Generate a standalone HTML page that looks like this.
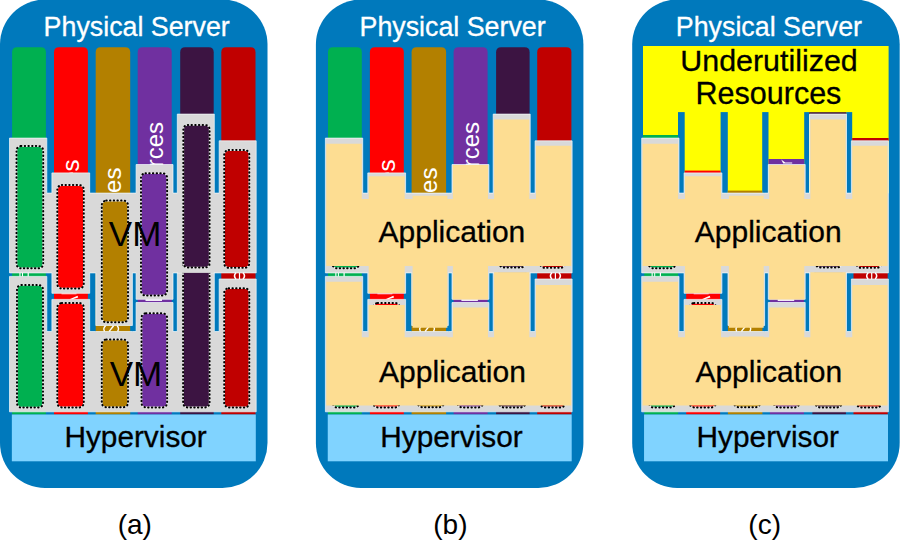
<!DOCTYPE html><html><head><meta charset="utf-8"><style>html,body{margin:0;padding:0;background:#fff;}svg{display:block}</style></head><body>
<svg width="900" height="557" viewBox="0 0 900 557" font-family="'Liberation Sans', sans-serif">
<rect width="900" height="557" fill="#fff"/>
<g transform="translate(0.0,0)">
<rect x="0" y="-0.5" width="267.5" height="488.5" rx="45" ry="45" fill="#0079BC"/>
<path d="M12.10,414.60 V52.20 Q12.10,47.20 17.10,47.20 H40.90 Q45.90,47.20 45.90,52.20 V414.60 Z" fill="#00B050"/>
<path d="M54.00,414.60 V52.20 Q54.00,47.20 59.00,47.20 H82.90 Q87.90,47.20 87.90,52.20 V414.60 Z" fill="#FF0000"/>
<path d="M95.70,414.60 V52.20 Q95.70,47.20 100.70,47.20 H125.20 Q130.20,47.20 130.20,52.20 V414.60 Z" fill="#B38000"/>
<path d="M137.70,414.60 V52.20 Q137.70,47.20 142.70,47.20 H166.70 Q171.70,47.20 171.70,52.20 V414.60 Z" fill="#7030A0"/>
<path d="M180.20,414.60 V52.20 Q180.20,47.20 185.20,47.20 H208.70 Q213.70,47.20 213.70,52.20 V414.60 Z" fill="#3C1442"/>
<path d="M221.30,414.60 V52.20 Q221.30,47.20 226.30,47.20 H250.50 Q255.50,47.20 255.50,52.20 V414.60 Z" fill="#C00000"/>
<text transform="translate(79.10,159.40) rotate(-90)" text-anchor="end" font-size="24" fill="#fff">Resources</text>
<text transform="translate(120.90,167.60) rotate(-90)" text-anchor="end" font-size="24" fill="#fff">Resources</text>
<text transform="translate(163.10,122.00) rotate(-90)" text-anchor="end" font-size="24" fill="#fff">Resources</text>
<polygon points="9.50,138.10 46.80,138.10 46.80,193.10 51.90,193.10 51.90,172.90 89.70,172.90 89.70,193.10 95.80,193.10 132.40,193.10 136.10,193.10 136.10,164.50 173.00,164.50 173.00,193.10 177.30,193.10 177.30,114.10 214.30,114.10 214.30,193.10 219.20,193.10 219.20,140.80 256.20,140.80 256.20,272.90 219.20,272.90 214.30,272.90 177.30,272.90 173.00,272.90 173.00,299.30 136.10,299.30 136.10,272.90 132.40,272.90 132.40,325.50 95.80,325.50 95.80,272.90 89.70,272.90 89.70,293.30 51.90,293.30 51.90,272.90 46.80,272.90 9.50,272.90" fill="#D9D9D9" stroke="#F2FAFD" stroke-width="0.7"/>
<polygon points="9.50,276.40 46.80,276.40 46.80,331.50 51.90,331.50 51.90,299.40 89.70,299.40 89.70,331.50 95.80,331.50 132.40,331.50 136.10,331.50 136.10,302.50 173.00,302.50 173.00,331.50 177.30,331.50 177.30,272.90 214.30,272.90 214.30,331.50 219.20,331.50 219.20,279.00 256.20,279.00 256.20,411.80 9.50,411.80" fill="#D9D9D9" stroke="#F2FAFD" stroke-width="0.7"/>
<rect x="17.00" y="285.00" width="26.00" height="122.60" rx="4.5" fill="#00B050" stroke="#EDEDED" stroke-width="1.6"/><rect x="17.00" y="285.00" width="26.00" height="122.60" rx="4.5" fill="none" stroke="#000" stroke-width="2.0" stroke-linecap="round" stroke-dasharray="0.45 3.25"/>
<rect x="57.30" y="303.00" width="26.50" height="104.40" rx="4.5" fill="#FF0000" stroke="#EDEDED" stroke-width="1.6"/><rect x="57.30" y="303.00" width="26.50" height="104.40" rx="4.5" fill="none" stroke="#000" stroke-width="2.0" stroke-linecap="round" stroke-dasharray="0.45 3.25"/>
<rect x="101.80" y="339.50" width="26.20" height="67.70" rx="4.5" fill="#B38000" stroke="#EDEDED" stroke-width="1.6"/><rect x="101.80" y="339.50" width="26.20" height="67.70" rx="4.5" fill="none" stroke="#000" stroke-width="2.0" stroke-linecap="round" stroke-dasharray="0.45 3.25"/>
<rect x="141.50" y="313.30" width="25.60" height="94.10" rx="4.5" fill="#7030A0" stroke="#EDEDED" stroke-width="1.6"/><rect x="141.50" y="313.30" width="25.60" height="94.10" rx="4.5" fill="none" stroke="#000" stroke-width="2.0" stroke-linecap="round" stroke-dasharray="0.45 3.25"/>
<rect x="183.10" y="262.50" width="26.50" height="144.90" rx="4.5" fill="#3C1442" stroke="#EDEDED" stroke-width="1.6"/><rect x="183.10" y="262.50" width="26.50" height="144.90" rx="4.5" fill="none" stroke="#000" stroke-width="2.0" stroke-linecap="round" stroke-dasharray="0.45 3.25"/>
<rect x="224.20" y="288.20" width="25.10" height="119.20" rx="4.5" fill="#C00000" stroke="#EDEDED" stroke-width="1.6"/><rect x="224.20" y="288.20" width="25.10" height="119.20" rx="4.5" fill="none" stroke="#000" stroke-width="2.0" stroke-linecap="round" stroke-dasharray="0.45 3.25"/>
<rect x="177.8" y="266" width="36.00" height="6.9" fill="#D9D9D9"/>
<rect x="16.50" y="146.10" width="26.70" height="122.20" rx="4.5" fill="#00B050" stroke="#EDEDED" stroke-width="1.6"/><rect x="16.50" y="146.10" width="26.70" height="122.20" rx="4.5" fill="none" stroke="#000" stroke-width="2.0" stroke-linecap="round" stroke-dasharray="0.45 3.25"/>
<rect x="57.30" y="185.10" width="26.50" height="103.40" rx="4.5" fill="#FF0000" stroke="#EDEDED" stroke-width="1.6"/><rect x="57.30" y="185.10" width="26.50" height="103.40" rx="4.5" fill="none" stroke="#000" stroke-width="2.0" stroke-linecap="round" stroke-dasharray="0.45 3.25"/>
<rect x="101.80" y="200.60" width="26.20" height="121.70" rx="4.5" fill="#B38000" stroke="#EDEDED" stroke-width="1.6"/><rect x="101.80" y="200.60" width="26.20" height="121.70" rx="4.5" fill="none" stroke="#000" stroke-width="2.0" stroke-linecap="round" stroke-dasharray="0.45 3.25"/>
<rect x="141.00" y="173.30" width="26.10" height="122.20" rx="4.5" fill="#7030A0" stroke="#EDEDED" stroke-width="1.6"/><rect x="141.00" y="173.30" width="26.10" height="122.20" rx="4.5" fill="none" stroke="#000" stroke-width="2.0" stroke-linecap="round" stroke-dasharray="0.45 3.25"/>
<rect x="183.30" y="125.00" width="26.30" height="142.50" rx="4.5" fill="#3C1442" stroke="#EDEDED" stroke-width="1.6"/><rect x="183.30" y="125.00" width="26.30" height="142.50" rx="4.5" fill="none" stroke="#000" stroke-width="2.0" stroke-linecap="round" stroke-dasharray="0.45 3.25"/>
<rect x="224.20" y="150.10" width="25.10" height="117.70" rx="4.5" fill="#C00000" stroke="#EDEDED" stroke-width="1.6"/><rect x="224.20" y="150.10" width="25.10" height="117.70" rx="4.5" fill="none" stroke="#000" stroke-width="2.0" stroke-linecap="round" stroke-dasharray="0.45 3.25"/>
<rect x="19.4" y="272.8" width="1.1" height="3.6" fill="#fff"/>
<rect x="22.0" y="272.8" width="1.0" height="3.6" fill="#fff"/>
<rect x="27.6" y="272.8" width="1.2" height="3.6" fill="#fff"/>
<path d="M69.5,299.2 L77.5,295.8 L78.2,297.6 L72.5,299.2 Z" fill="#fff"/>
<rect x="61.5" y="293.4" width="15" height="0.9" fill="#fff" opacity="0.8"/>
<path d="M105.6,325.8 Q102.6,328.5 104.6,331.4" stroke="#fff" stroke-width="1.4" fill="none"/>
<path d="M113.6,325.8 L109.2,331.4" stroke="#fff" stroke-width="1.4" fill="none"/>
<path d="M117.2,325.8 Q119.6,328.5 117.6,331.4" stroke="#fff" stroke-width="1.4" fill="none"/>
<rect x="145.5" y="299.3" width="16.5" height="1.6" fill="#fff"/>
<path d="M236.0,272.8 Q233.0,275.9 236.0,279.1" stroke="#fff" stroke-width="1.5" fill="none"/>
<path d="M243.0,272.8 Q246.0,275.9 243.0,279.1" stroke="#fff" stroke-width="1.5" fill="none"/>
<rect x="238.9" y="272.8" width="1.2" height="6.3" fill="#fff"/>
<text x="135.1" y="246.3" text-anchor="middle" font-size="35" fill="#000">VM</text>
<text x="136.0" y="386.0" text-anchor="middle" font-size="35" fill="#000">VM</text>
<rect x="11.85" y="414.5" width="243.95" height="46.8" fill="#80D3FF"/>
<text x="135.6" y="447" text-anchor="middle" font-size="29.8" fill="#000" stroke="#000" stroke-width="0.3">Hypervisor</text>
<text x="136.7" y="35.6" text-anchor="middle" font-size="26.8" fill="#fff" stroke="#fff" stroke-width="0.3">Physical Server</text>
</g>
<g transform="translate(315.9,0)">
<rect x="0" y="-0.5" width="267.5" height="488.5" rx="45" ry="45" fill="#0079BC"/>
<path d="M12.10,414.60 V52.20 Q12.10,47.20 17.10,47.20 H40.90 Q45.90,47.20 45.90,52.20 V414.60 Z" fill="#00B050"/>
<path d="M54.00,414.60 V52.20 Q54.00,47.20 59.00,47.20 H82.90 Q87.90,47.20 87.90,52.20 V414.60 Z" fill="#FF0000"/>
<path d="M95.70,414.60 V52.20 Q95.70,47.20 100.70,47.20 H125.20 Q130.20,47.20 130.20,52.20 V414.60 Z" fill="#B38000"/>
<path d="M137.70,414.60 V52.20 Q137.70,47.20 142.70,47.20 H166.70 Q171.70,47.20 171.70,52.20 V414.60 Z" fill="#7030A0"/>
<path d="M180.20,414.60 V52.20 Q180.20,47.20 185.20,47.20 H208.70 Q213.70,47.20 213.70,52.20 V414.60 Z" fill="#3C1442"/>
<path d="M221.30,414.60 V52.20 Q221.30,47.20 226.30,47.20 H250.50 Q255.50,47.20 255.50,52.20 V414.60 Z" fill="#C00000"/>
<text transform="translate(79.10,159.40) rotate(-90)" text-anchor="end" font-size="24" fill="#fff">Resources</text>
<text transform="translate(120.90,167.60) rotate(-90)" text-anchor="end" font-size="24" fill="#fff">Resources</text>
<text transform="translate(163.10,122.00) rotate(-90)" text-anchor="end" font-size="24" fill="#fff">Resources</text>
<polygon points="9.50,138.10 46.80,138.10 46.80,193.10 51.90,193.10 51.90,172.90 89.70,172.90 89.70,193.10 95.80,193.10 132.40,193.10 136.10,193.10 136.10,164.50 173.00,164.50 173.00,193.10 177.30,193.10 177.30,114.10 214.30,114.10 214.30,193.10 219.20,193.10 219.20,140.80 256.20,140.80 256.20,272.90 219.20,272.90 214.30,272.90 177.30,272.90 173.00,272.90 173.00,299.30 136.10,299.30 136.10,272.90 132.40,272.90 132.40,325.50 95.80,325.50 95.80,272.90 89.70,272.90 89.70,293.30 51.90,293.30 51.90,272.90 46.80,272.90 9.50,272.90" fill="#D9D9D9" stroke="#F2FAFD" stroke-width="0.7"/>
<polygon points="9.50,276.40 46.80,276.40 46.80,331.50 51.90,331.50 51.90,299.40 89.70,299.40 89.70,331.50 95.80,331.50 132.40,331.50 136.10,331.50 136.10,302.50 173.00,302.50 173.00,331.50 177.30,331.50 177.30,272.90 214.30,272.90 214.30,331.50 219.20,331.50 219.20,279.00 256.20,279.00 256.20,411.80 9.50,411.80" fill="#D9D9D9" stroke="#F2FAFD" stroke-width="0.7"/>
<rect x="17.00" y="285.00" width="26.00" height="122.60" rx="4.5" fill="#00B050" stroke="#EDEDED" stroke-width="1.6"/><rect x="17.00" y="285.00" width="26.00" height="122.60" rx="4.5" fill="none" stroke="#000" stroke-width="2.0" stroke-linecap="round" stroke-dasharray="0.45 3.25"/>
<rect x="57.30" y="303.00" width="26.50" height="104.40" rx="4.5" fill="#FF0000" stroke="#EDEDED" stroke-width="1.6"/><rect x="57.30" y="303.00" width="26.50" height="104.40" rx="4.5" fill="none" stroke="#000" stroke-width="2.0" stroke-linecap="round" stroke-dasharray="0.45 3.25"/>
<rect x="101.80" y="339.50" width="26.20" height="67.70" rx="4.5" fill="#B38000" stroke="#EDEDED" stroke-width="1.6"/><rect x="101.80" y="339.50" width="26.20" height="67.70" rx="4.5" fill="none" stroke="#000" stroke-width="2.0" stroke-linecap="round" stroke-dasharray="0.45 3.25"/>
<rect x="141.50" y="313.30" width="25.60" height="94.10" rx="4.5" fill="#7030A0" stroke="#EDEDED" stroke-width="1.6"/><rect x="141.50" y="313.30" width="25.60" height="94.10" rx="4.5" fill="none" stroke="#000" stroke-width="2.0" stroke-linecap="round" stroke-dasharray="0.45 3.25"/>
<rect x="183.10" y="262.50" width="26.50" height="144.90" rx="4.5" fill="#3C1442" stroke="#EDEDED" stroke-width="1.6"/><rect x="183.10" y="262.50" width="26.50" height="144.90" rx="4.5" fill="none" stroke="#000" stroke-width="2.0" stroke-linecap="round" stroke-dasharray="0.45 3.25"/>
<rect x="224.20" y="288.20" width="25.10" height="119.20" rx="4.5" fill="#C00000" stroke="#EDEDED" stroke-width="1.6"/><rect x="224.20" y="288.20" width="25.10" height="119.20" rx="4.5" fill="none" stroke="#000" stroke-width="2.0" stroke-linecap="round" stroke-dasharray="0.45 3.25"/>
<rect x="177.8" y="266" width="36.00" height="6.9" fill="#D9D9D9"/>
<rect x="16.50" y="146.10" width="26.70" height="122.20" rx="4.5" fill="#00B050" stroke="#EDEDED" stroke-width="1.6"/><rect x="16.50" y="146.10" width="26.70" height="122.20" rx="4.5" fill="none" stroke="#000" stroke-width="2.0" stroke-linecap="round" stroke-dasharray="0.45 3.25"/>
<rect x="57.30" y="185.10" width="26.50" height="103.40" rx="4.5" fill="#FF0000" stroke="#EDEDED" stroke-width="1.6"/><rect x="57.30" y="185.10" width="26.50" height="103.40" rx="4.5" fill="none" stroke="#000" stroke-width="2.0" stroke-linecap="round" stroke-dasharray="0.45 3.25"/>
<rect x="101.80" y="200.60" width="26.20" height="121.70" rx="4.5" fill="#B38000" stroke="#EDEDED" stroke-width="1.6"/><rect x="101.80" y="200.60" width="26.20" height="121.70" rx="4.5" fill="none" stroke="#000" stroke-width="2.0" stroke-linecap="round" stroke-dasharray="0.45 3.25"/>
<rect x="141.00" y="173.30" width="26.10" height="122.20" rx="4.5" fill="#7030A0" stroke="#EDEDED" stroke-width="1.6"/><rect x="141.00" y="173.30" width="26.10" height="122.20" rx="4.5" fill="none" stroke="#000" stroke-width="2.0" stroke-linecap="round" stroke-dasharray="0.45 3.25"/>
<rect x="183.30" y="125.00" width="26.30" height="142.50" rx="4.5" fill="#3C1442" stroke="#EDEDED" stroke-width="1.6"/><rect x="183.30" y="125.00" width="26.30" height="142.50" rx="4.5" fill="none" stroke="#000" stroke-width="2.0" stroke-linecap="round" stroke-dasharray="0.45 3.25"/>
<rect x="224.20" y="150.10" width="25.10" height="117.70" rx="4.5" fill="#C00000" stroke="#EDEDED" stroke-width="1.6"/><rect x="224.20" y="150.10" width="25.10" height="117.70" rx="4.5" fill="none" stroke="#000" stroke-width="2.0" stroke-linecap="round" stroke-dasharray="0.45 3.25"/>
<rect x="19.4" y="272.8" width="1.1" height="3.6" fill="#fff"/>
<rect x="22.0" y="272.8" width="1.0" height="3.6" fill="#fff"/>
<rect x="27.6" y="272.8" width="1.2" height="3.6" fill="#fff"/>
<path d="M69.5,299.2 L77.5,295.8 L78.2,297.6 L72.5,299.2 Z" fill="#fff"/>
<rect x="61.5" y="293.4" width="15" height="0.9" fill="#fff" opacity="0.8"/>
<path d="M105.6,325.8 Q102.6,328.5 104.6,331.4" stroke="#fff" stroke-width="1.4" fill="none"/>
<path d="M113.6,325.8 L109.2,331.4" stroke="#fff" stroke-width="1.4" fill="none"/>
<path d="M117.2,325.8 Q119.6,328.5 117.6,331.4" stroke="#fff" stroke-width="1.4" fill="none"/>
<rect x="145.5" y="299.3" width="16.5" height="1.6" fill="#fff"/>
<path d="M236.0,272.8 Q233.0,275.9 236.0,279.1" stroke="#fff" stroke-width="1.5" fill="none"/>
<path d="M243.0,272.8 Q246.0,275.9 243.0,279.1" stroke="#fff" stroke-width="1.5" fill="none"/>
<rect x="238.9" y="272.8" width="1.2" height="6.3" fill="#fff"/>
<polygon points="10.40,143.70 45.90,143.70 45.90,199.10 52.80,199.10 52.80,176.20 88.80,176.20 88.80,199.10 96.70,199.10 96.70,195.70 131.50,195.70 131.50,199.10 137.00,199.10 137.00,165.10 172.10,165.10 172.10,199.10 178.20,199.10 178.20,119.60 213.40,119.60 213.40,199.10 220.10,199.10 220.10,145.80 255.30,145.80 255.30,266.00 220.10,266.00 213.40,266.00 178.20,266.00 172.10,266.00 172.10,299.40 137.00,299.40 137.00,266.00 131.50,266.00 131.50,327.70 96.70,327.70 96.70,266.00 88.80,266.00 88.80,293.00 52.80,293.00 52.80,266.00 45.90,266.00 10.40,266.00" fill="#FDDD92"/>
<polygon points="10.40,281.70 45.90,281.70 45.90,337.30 52.80,337.30 52.80,305.00 88.80,305.00 88.80,337.30 96.70,337.30 96.70,336.50 131.50,336.50 131.50,337.30 137.00,337.30 137.00,307.50 172.10,307.50 172.10,337.30 178.20,337.30 178.20,272.20 213.40,272.20 213.40,337.30 220.10,337.30 220.10,285.00 255.30,285.00 255.30,405.50 10.40,405.50" fill="#FDDD92"/>
<text x="136.0" y="241.8" text-anchor="middle" font-size="30" fill="#000" stroke="#000" stroke-width="0.3">Application</text>
<text x="136.6" y="381.6" text-anchor="middle" font-size="30" fill="#000" stroke="#000" stroke-width="0.3">Application</text>
<rect x="11.85" y="414.5" width="243.95" height="46.8" fill="#80D3FF"/>
<text x="135.6" y="447" text-anchor="middle" font-size="29.8" fill="#000" stroke="#000" stroke-width="0.3">Hypervisor</text>
<text x="136.7" y="35.6" text-anchor="middle" font-size="26.8" fill="#fff" stroke="#fff" stroke-width="0.3">Physical Server</text>
</g>
<g transform="translate(632.2,0)">
<rect x="0" y="-0.5" width="267.5" height="488.5" rx="45" ry="45" fill="#0079BC"/>
<path d="M12.10,414.60 V52.20 Q12.10,47.20 17.10,47.20 H40.90 Q45.90,47.20 45.90,52.20 V414.60 Z" fill="#00B050"/>
<path d="M54.00,414.60 V52.20 Q54.00,47.20 59.00,47.20 H82.90 Q87.90,47.20 87.90,52.20 V414.60 Z" fill="#FF0000"/>
<path d="M95.70,414.60 V52.20 Q95.70,47.20 100.70,47.20 H125.20 Q130.20,47.20 130.20,52.20 V414.60 Z" fill="#B38000"/>
<path d="M137.70,414.60 V52.20 Q137.70,47.20 142.70,47.20 H166.70 Q171.70,47.20 171.70,52.20 V414.60 Z" fill="#7030A0"/>
<path d="M180.20,414.60 V52.20 Q180.20,47.20 185.20,47.20 H208.70 Q213.70,47.20 213.70,52.20 V414.60 Z" fill="#3C1442"/>
<path d="M221.30,414.60 V52.20 Q221.30,47.20 226.30,47.20 H250.50 Q255.50,47.20 255.50,52.20 V414.60 Z" fill="#C00000"/>
<text transform="translate(79.10,159.40) rotate(-90)" text-anchor="end" font-size="24" fill="#fff">Resources</text>
<text transform="translate(120.90,167.60) rotate(-90)" text-anchor="end" font-size="24" fill="#fff">Resources</text>
<text transform="translate(163.10,122.00) rotate(-90)" text-anchor="end" font-size="24" fill="#fff">Resources</text>
<rect x="10.8" y="46.0" width="245.6" height="147.3" fill="#FFFF00"/>
<rect x="45.8" y="112.1" width="6.70" height="81.2" fill="#0079BC"/>
<rect x="88.4" y="112.1" width="7.20" height="81.2" fill="#0079BC"/>
<rect x="130.0" y="112.1" width="6.30" height="81.2" fill="#0079BC"/>
<rect x="172.0" y="112.1" width="4.90" height="81.2" fill="#0079BC"/>
<rect x="214.0" y="112.1" width="6.00" height="81.2" fill="#0079BC"/>
<rect x="10.80" y="135.0" width="35.00" height="3.60" fill="#00B050"/>
<rect x="52.50" y="170.6" width="35.90" height="2.80" fill="#FF0000"/>
<rect x="95.60" y="190.6" width="34.40" height="3.00" fill="#B38000"/>
<rect x="136.30" y="159.0" width="35.70" height="6.00" fill="#7030A0"/>
<rect x="176.90" y="112.2" width="37.10" height="2.40" fill="#3C1442"/>
<rect x="220.00" y="138.0" width="36.40" height="3.30" fill="#C00000"/>
<path d="M149,159.6 L151,163.6 L160,163.6 L160,162.6 L153,162.6 Z" fill="#fff"/>
<text x="136.8" y="71.3" text-anchor="middle" font-size="30.4" fill="#000" stroke="#000" stroke-width="0.3">Underutilized</text>
<text x="136.3" y="104.0" text-anchor="middle" font-size="30.5" fill="#000" stroke="#000" stroke-width="0.3">Resources</text>
<polygon points="9.50,138.10 46.80,138.10 46.80,193.10 51.90,193.10 51.90,172.90 89.70,172.90 89.70,193.10 95.80,193.10 132.40,193.10 136.10,193.10 136.10,164.50 173.00,164.50 173.00,193.10 177.30,193.10 177.30,114.10 214.30,114.10 214.30,193.10 219.20,193.10 219.20,140.80 256.20,140.80 256.20,272.90 219.20,272.90 214.30,272.90 177.30,272.90 173.00,272.90 173.00,299.30 136.10,299.30 136.10,272.90 132.40,272.90 132.40,325.50 95.80,325.50 95.80,272.90 89.70,272.90 89.70,293.30 51.90,293.30 51.90,272.90 46.80,272.90 9.50,272.90" fill="#D9D9D9" stroke="#F2FAFD" stroke-width="0.7"/>
<polygon points="9.50,276.40 46.80,276.40 46.80,331.50 51.90,331.50 51.90,299.40 89.70,299.40 89.70,331.50 95.80,331.50 132.40,331.50 136.10,331.50 136.10,302.50 173.00,302.50 173.00,331.50 177.30,331.50 177.30,272.90 214.30,272.90 214.30,331.50 219.20,331.50 219.20,279.00 256.20,279.00 256.20,411.80 9.50,411.80" fill="#D9D9D9" stroke="#F2FAFD" stroke-width="0.7"/>
<rect x="17.00" y="285.00" width="26.00" height="122.60" rx="4.5" fill="#00B050" stroke="#EDEDED" stroke-width="1.6"/><rect x="17.00" y="285.00" width="26.00" height="122.60" rx="4.5" fill="none" stroke="#000" stroke-width="2.0" stroke-linecap="round" stroke-dasharray="0.45 3.25"/>
<rect x="57.30" y="303.00" width="26.50" height="104.40" rx="4.5" fill="#FF0000" stroke="#EDEDED" stroke-width="1.6"/><rect x="57.30" y="303.00" width="26.50" height="104.40" rx="4.5" fill="none" stroke="#000" stroke-width="2.0" stroke-linecap="round" stroke-dasharray="0.45 3.25"/>
<rect x="101.80" y="339.50" width="26.20" height="67.70" rx="4.5" fill="#B38000" stroke="#EDEDED" stroke-width="1.6"/><rect x="101.80" y="339.50" width="26.20" height="67.70" rx="4.5" fill="none" stroke="#000" stroke-width="2.0" stroke-linecap="round" stroke-dasharray="0.45 3.25"/>
<rect x="141.50" y="313.30" width="25.60" height="94.10" rx="4.5" fill="#7030A0" stroke="#EDEDED" stroke-width="1.6"/><rect x="141.50" y="313.30" width="25.60" height="94.10" rx="4.5" fill="none" stroke="#000" stroke-width="2.0" stroke-linecap="round" stroke-dasharray="0.45 3.25"/>
<rect x="183.10" y="262.50" width="26.50" height="144.90" rx="4.5" fill="#3C1442" stroke="#EDEDED" stroke-width="1.6"/><rect x="183.10" y="262.50" width="26.50" height="144.90" rx="4.5" fill="none" stroke="#000" stroke-width="2.0" stroke-linecap="round" stroke-dasharray="0.45 3.25"/>
<rect x="224.20" y="288.20" width="25.10" height="119.20" rx="4.5" fill="#C00000" stroke="#EDEDED" stroke-width="1.6"/><rect x="224.20" y="288.20" width="25.10" height="119.20" rx="4.5" fill="none" stroke="#000" stroke-width="2.0" stroke-linecap="round" stroke-dasharray="0.45 3.25"/>
<rect x="177.8" y="266" width="36.00" height="6.9" fill="#D9D9D9"/>
<rect x="16.50" y="146.10" width="26.70" height="122.20" rx="4.5" fill="#00B050" stroke="#EDEDED" stroke-width="1.6"/><rect x="16.50" y="146.10" width="26.70" height="122.20" rx="4.5" fill="none" stroke="#000" stroke-width="2.0" stroke-linecap="round" stroke-dasharray="0.45 3.25"/>
<rect x="57.30" y="185.10" width="26.50" height="103.40" rx="4.5" fill="#FF0000" stroke="#EDEDED" stroke-width="1.6"/><rect x="57.30" y="185.10" width="26.50" height="103.40" rx="4.5" fill="none" stroke="#000" stroke-width="2.0" stroke-linecap="round" stroke-dasharray="0.45 3.25"/>
<rect x="101.80" y="200.60" width="26.20" height="121.70" rx="4.5" fill="#B38000" stroke="#EDEDED" stroke-width="1.6"/><rect x="101.80" y="200.60" width="26.20" height="121.70" rx="4.5" fill="none" stroke="#000" stroke-width="2.0" stroke-linecap="round" stroke-dasharray="0.45 3.25"/>
<rect x="141.00" y="173.30" width="26.10" height="122.20" rx="4.5" fill="#7030A0" stroke="#EDEDED" stroke-width="1.6"/><rect x="141.00" y="173.30" width="26.10" height="122.20" rx="4.5" fill="none" stroke="#000" stroke-width="2.0" stroke-linecap="round" stroke-dasharray="0.45 3.25"/>
<rect x="183.30" y="125.00" width="26.30" height="142.50" rx="4.5" fill="#3C1442" stroke="#EDEDED" stroke-width="1.6"/><rect x="183.30" y="125.00" width="26.30" height="142.50" rx="4.5" fill="none" stroke="#000" stroke-width="2.0" stroke-linecap="round" stroke-dasharray="0.45 3.25"/>
<rect x="224.20" y="150.10" width="25.10" height="117.70" rx="4.5" fill="#C00000" stroke="#EDEDED" stroke-width="1.6"/><rect x="224.20" y="150.10" width="25.10" height="117.70" rx="4.5" fill="none" stroke="#000" stroke-width="2.0" stroke-linecap="round" stroke-dasharray="0.45 3.25"/>
<rect x="19.4" y="272.8" width="1.1" height="3.6" fill="#fff"/>
<rect x="22.0" y="272.8" width="1.0" height="3.6" fill="#fff"/>
<rect x="27.6" y="272.8" width="1.2" height="3.6" fill="#fff"/>
<path d="M69.5,299.2 L77.5,295.8 L78.2,297.6 L72.5,299.2 Z" fill="#fff"/>
<rect x="61.5" y="293.4" width="15" height="0.9" fill="#fff" opacity="0.8"/>
<path d="M105.6,325.8 Q102.6,328.5 104.6,331.4" stroke="#fff" stroke-width="1.4" fill="none"/>
<path d="M113.6,325.8 L109.2,331.4" stroke="#fff" stroke-width="1.4" fill="none"/>
<path d="M117.2,325.8 Q119.6,328.5 117.6,331.4" stroke="#fff" stroke-width="1.4" fill="none"/>
<rect x="145.5" y="299.3" width="16.5" height="1.6" fill="#fff"/>
<path d="M236.0,272.8 Q233.0,275.9 236.0,279.1" stroke="#fff" stroke-width="1.5" fill="none"/>
<path d="M243.0,272.8 Q246.0,275.9 243.0,279.1" stroke="#fff" stroke-width="1.5" fill="none"/>
<rect x="238.9" y="272.8" width="1.2" height="6.3" fill="#fff"/>
<polygon points="10.40,143.70 45.90,143.70 45.90,199.10 52.80,199.10 52.80,176.20 88.80,176.20 88.80,199.10 96.70,199.10 96.70,195.70 131.50,195.70 131.50,199.10 137.00,199.10 137.00,165.10 172.10,165.10 172.10,199.10 178.20,199.10 178.20,119.60 213.40,119.60 213.40,199.10 220.10,199.10 220.10,145.80 255.30,145.80 255.30,266.00 220.10,266.00 213.40,266.00 178.20,266.00 172.10,266.00 172.10,299.40 137.00,299.40 137.00,266.00 131.50,266.00 131.50,327.70 96.70,327.70 96.70,266.00 88.80,266.00 88.80,293.00 52.80,293.00 52.80,266.00 45.90,266.00 10.40,266.00" fill="#FDDD92"/>
<polygon points="10.40,281.70 45.90,281.70 45.90,337.30 52.80,337.30 52.80,305.00 88.80,305.00 88.80,337.30 96.70,337.30 96.70,336.50 131.50,336.50 131.50,337.30 137.00,337.30 137.00,307.50 172.10,307.50 172.10,337.30 178.20,337.30 178.20,272.20 213.40,272.20 213.40,337.30 220.10,337.30 220.10,285.00 255.30,285.00 255.30,405.50 10.40,405.50" fill="#FDDD92"/>
<text x="136.0" y="241.8" text-anchor="middle" font-size="30" fill="#000" stroke="#000" stroke-width="0.3">Application</text>
<text x="136.6" y="381.6" text-anchor="middle" font-size="30" fill="#000" stroke="#000" stroke-width="0.3">Application</text>
<rect x="11.85" y="414.5" width="243.95" height="46.8" fill="#80D3FF"/>
<text x="135.6" y="447" text-anchor="middle" font-size="29.8" fill="#000" stroke="#000" stroke-width="0.3">Hypervisor</text>
<text x="136.7" y="35.6" text-anchor="middle" font-size="26.8" fill="#fff" stroke="#fff" stroke-width="0.3">Physical Server</text>
</g>
<text x="134.8" y="534" text-anchor="middle" font-size="28" fill="#000">(a)</text>
<text x="450.4" y="534" text-anchor="middle" font-size="28" fill="#000">(b)</text>
<text x="764.7" y="534" text-anchor="middle" font-size="28" fill="#000">(c)</text>
</svg></body></html>
